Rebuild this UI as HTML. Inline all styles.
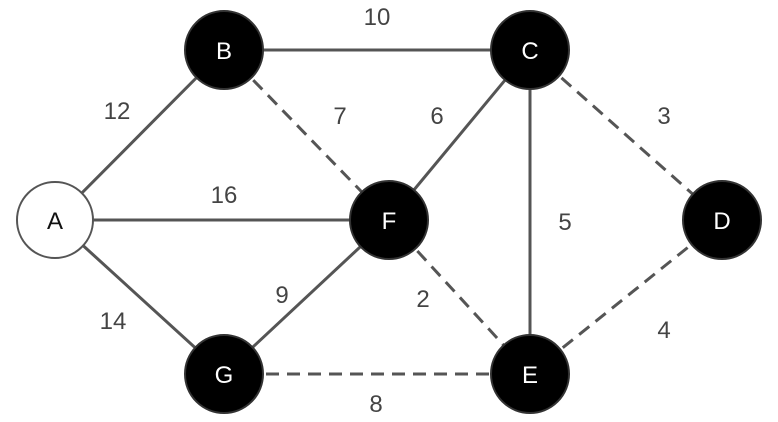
<!DOCTYPE html>
<html><head><style>body{margin:0;background:#fff}svg{display:block}</style></head><body>
<svg width="778" height="422" viewBox="0 0 778 422" xmlns="http://www.w3.org/2000/svg">
<g stroke="#555" stroke-width="3" fill="none">
<line x1="55" y1="220" x2="224" y2="50"/>
<line x1="55" y1="220" x2="389" y2="220"/>
<line x1="55" y1="220" x2="224" y2="374"/>
<line x1="224" y1="50" x2="530" y2="50"/>
<line x1="530" y1="50" x2="389" y2="220"/>
<line x1="530" y1="50" x2="530" y2="374"/>
<line x1="224" y1="374" x2="389" y2="220"/>
</g>
<g stroke="#555" stroke-width="3" fill="none" stroke-dasharray="13,8">
<line x1="224" y1="50" x2="389" y2="220"/>
<line x1="530" y1="50" x2="722" y2="220"/>
<line x1="389" y1="220" x2="530" y2="374"/>
<line x1="224" y1="374" x2="530" y2="374"/>
<line x1="530" y1="374" x2="722" y2="220"/>
</g>
<circle cx="55" cy="220" r="38" fill="#fff" stroke="#555" stroke-width="2"/>
<g fill="#000" stroke="#333" stroke-width="2">
<circle cx="224" cy="50" r="39"/><circle cx="530" cy="50" r="39"/>
<circle cx="722" cy="220" r="39"/><circle cx="389" cy="220" r="39"/>
<circle cx="224" cy="374" r="39"/><circle cx="530" cy="374" r="39"/>
</g>
<g font-family="Liberation Sans, sans-serif" font-size="24" text-anchor="middle">
<text x="55" y="229" fill="#111">A</text>
<g fill="#fff">
<text x="224" y="59">B</text><text x="530" y="59">C</text><text x="722" y="229">D</text>
<text x="389" y="229">F</text><text x="224" y="383">G</text><text x="530" y="383">E</text>
</g>
<g fill="#444">
<text x="377" y="25">10</text><text x="117" y="119">12</text><text x="340" y="124">7</text>
<text x="437" y="124">6</text><text x="664" y="124">3</text><text x="224" y="203">16</text>
<text x="565" y="230">5</text><text x="113" y="329">14</text><text x="282" y="303">9</text>
<text x="423" y="307">2</text><text x="664" y="338">4</text><text x="376" y="412">8</text>
</g>
</g>
</svg>
</body></html>
